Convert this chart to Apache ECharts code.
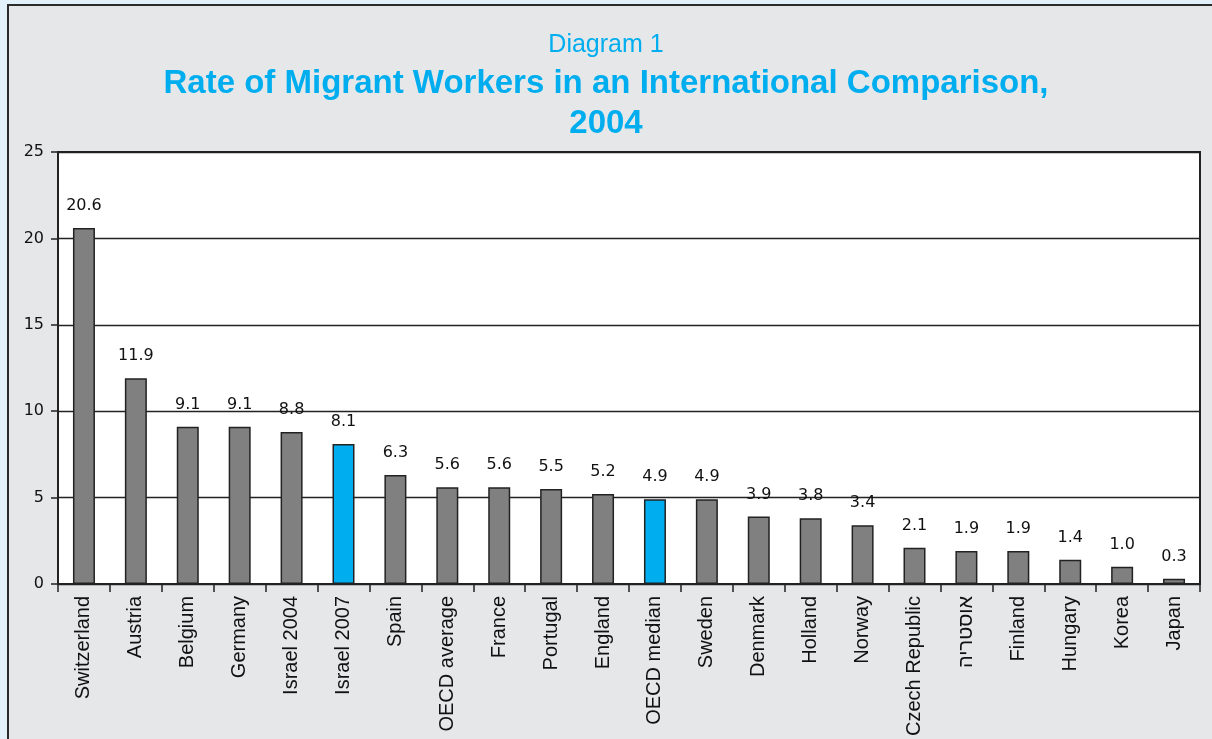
<!DOCTYPE html>
<html>
<head>
<meta charset="utf-8">
<script src="https://cdn.jsdelivr.net/npm/echarts@6/dist/echarts.min.js"></script>
<style>
  html, body { margin: 0; padding: 0; background: #e3f2fa; }
  #chart { width: 1212px; height: 739px; }
</style>
</head>
<body>
<div id="chart"></div>
<script>
// Share of migrant workers in the labour force, 2004 (percent)
const categories = [
  'Switzerland', 'Austria', 'Belgium', 'Germany', 'Israel 2004', 'Israel 2007',
  'Spain', 'OECD average', 'France', 'Portugal', 'England', 'OECD median',
  'Sweden', 'Denmark', 'Holland', 'Norway', 'Czech Republic', 'אוסטריה',
  'Finland', 'Hungary', 'Korea', 'Japan'
];
const values = [
  20.6, 11.9, 9.1, 9.1, 8.8, 8.1,
  6.3, 5.6, 5.6, 5.5, 5.2, 4.9,
  4.9, 3.9, 3.8, 3.4, 2.1, 1.9,
  1.9, 1.4, 1.0, 0.3
];
// Bars drawn in the accent colour
const highlighted = ['Israel 2007', 'OECD median'];
const yTicks = { min: 0, max: 25, interval: 5 };

const GREY = '#808080';
const BLUE = '#00aeef';

const chart = echarts.init(document.getElementById('chart'), null, { renderer: 'canvas' });

chart.setOption({
  backgroundColor: '#e3f2fa',
  animation: false,
  graphic: [{
    type: 'rect',
    z: -10,
    silent: true,
    shape: { x: 8, y: 5, width: 1230, height: 760 },
    style: { fill: '#e6e7e9', stroke: '#2b2b2b', lineWidth: 2 }
  }],
  title: [
    {
      text: 'Diagram 1',
      left: 'center',
      top: 32,
      padding: 0,
      textStyle: { fontFamily: 'Liberation Sans, Arial, sans-serif', fontSize: 25, fontWeight: 'normal', color: BLUE, lineHeight: 26 }
    },
    {
      text: 'Rate of Migrant Workers in an International Comparison,\n2004',
      left: 'center',
      top: 64,
      padding: 0,
      textStyle: { fontFamily: 'Liberation Sans, Arial, sans-serif', fontSize: 33, fontWeight: 'bold', color: BLUE, lineHeight: 40, align: 'center' }
    }
  ],
  grid: {
    left: 58, top: 152, right: 12, bottom: 153,
    show: true,
    backgroundColor: '#ffffff',
    borderColor: '#222222',
    borderWidth: 2
  },
  xAxis: {
    type: 'category',
    data: categories,
    boundaryGap: true,
    axisLine: { show: true, lineStyle: { color: '#222', width: 2 } },
    axisTick: { show: true, inside: false, length: 8, alignWithLabel: false, lineStyle: { color: '#222', width: 1.5 } },
    axisLabel: {
      interval: 0,
      rotate: 90,
      margin: 12,
      fontFamily: 'Liberation Sans, Arial, sans-serif',
      fontSize: 20,
      color: '#111'
    }
  },
  yAxis: {
    type: 'value',
    min: yTicks.min,
    max: yTicks.max,
    interval: yTicks.interval,
    axisLine: { show: true, lineStyle: { color: '#222', width: 2 } },
    axisTick: { show: true, inside: false, length: 7, lineStyle: { color: '#222', width: 1.5 } },
    splitLine: { show: true, lineStyle: { color: '#222', width: 1.3 } },
    axisLabel: {
      margin: 14,
      fontFamily: 'DejaVu Sans, sans-serif',
      fontSize: 16,
      color: '#111'
    }
  },
  series: [{
    type: 'bar',
    barWidth: 22,
    data: values.map((v, i) => ({
      value: v,
      itemStyle: { color: highlighted.includes(categories[i]) ? BLUE : GREY }
    })),
    itemStyle: { borderColor: '#222', borderWidth: 1.5 },
    label: {
      show: true,
      position: 'top',
      distance: 14,
      formatter: p => p.value.toFixed(1),
      fontFamily: 'DejaVu Sans, sans-serif',
      fontSize: 16,
      color: '#111'
    }
  }]
});
</script>
</body>
</html>
